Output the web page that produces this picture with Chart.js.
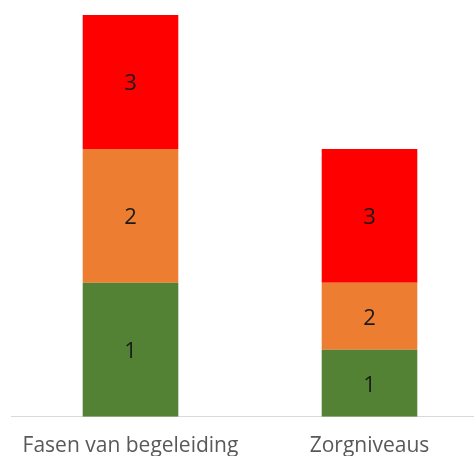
<!DOCTYPE html>
<html lang="nl">
<head>
    <meta charset="UTF-8">
    <title>Fasen en zorgniveaus</title>
    <script src="https://cdn.jsdelivr.net/npm/chart.js"></script>
    <style>
        html, body { margin: 0; padding: 0; background: #fff; overflow: hidden; }
        #wrap { width: 490px; height: 476px; }
    </style>
</head>
<body>
    <div id="wrap"><canvas id="chart" width="490" height="476"></canvas></div>

    <script>
        const categories = ["Fasen van begeleiding", "Zorgniveaus"];
        const level1 = [2, 1];
        const level2 = [2, 1];
        const level3 = [2, 2];

        // draw the series name in the middle of each segment
        const segmentLabels = {
            id: "segmentLabels",
            afterDatasetsDraw(chart) {
                const ctx = chart.ctx;
                ctx.save();
                ctx.font = "22px 'Open Sans'";
                ctx.fillStyle = "#1a1a1a";
                ctx.textAlign = "center";
                ctx.textBaseline = "middle";
                chart.data.datasets.forEach((ds, i) => {
                    chart.getDatasetMeta(i).data.forEach(bar => {
                        ctx.fillText(ds.label, bar.x, (bar.y + bar.base) / 2 + 2);
                    });
                });
                ctx.restore();
            }
        };

        new Chart(document.getElementById("chart"), {
            type: "bar",
            data: {
                labels: categories,
                datasets: [
                    { label: "1", data: level1, backgroundColor: "#548235" },
                    { label: "2", data: level2, backgroundColor: "#ED7D31" },
                    { label: "3", data: level3, backgroundColor: "#FF0000" }
                ]
            },
            options: {
                responsive: false,
                animation: false,
                layout: { padding: { top: 15, left: 11, right: 1, bottom: 0 } },
                datasets: { bar: { categoryPercentage: 1, barPercentage: 0.4 } },
                plugins: { legend: { display: false }, tooltip: { enabled: false } },
                scales: {
                    x: {
                        stacked: true,
                        grid: { display: false, drawTicks: false },
                        border: { color: "#d9d9d9", width: 1 },
                        ticks: { color: "#595959", font: { family: "'Open Sans'", size: 21 }, padding: 17 }
                    },
                    y: { stacked: true, display: false, min: 0, max: 6 }
                }
            },
            plugins: [segmentLabels]
        });
    </script>
</body>
</html>
